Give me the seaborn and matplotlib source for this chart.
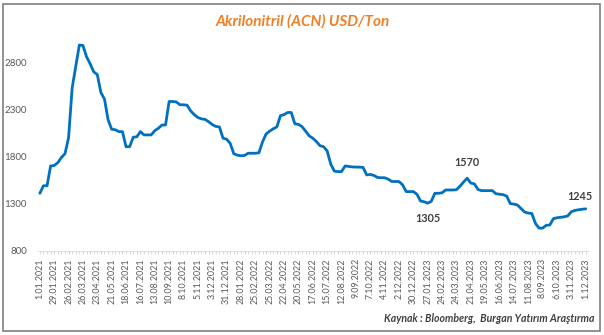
import numpy as np
import pandas as pd
import matplotlib
matplotlib.use("Agg")
import matplotlib.pyplot as plt
from matplotlib.patches import Rectangle
import seaborn as sns

# Weekly ACN price, USD/Ton, starting 1.01.2021
prices = [
    1410, 1490, 1490, 1700, 1705, 1735, 1790, 1830, 2000, 2530,
    2760, 2985, 2980, 2860, 2785, 2700, 2670, 2480, 2410, 2190,
    2090, 2085, 2065, 2065, 1905, 1905, 2005, 2010, 2065, 2030,
    2030, 2030, 2075, 2100, 2135, 2135, 2385, 2385, 2380, 2350,
    2350, 2345, 2285, 2245, 2215, 2200, 2195, 2170, 2140, 2120,
    2115, 1995, 1985, 1940, 1830, 1815, 1808, 1812, 1835, 1835,
    1835, 1840, 1955, 2040, 2070, 2095, 2115, 2235, 2245, 2268,
    2268, 2148, 2142, 2118, 2070, 2020, 1995, 1960, 1915, 1905,
    1860, 1720, 1645, 1640, 1640, 1700, 1695, 1690, 1688, 1688,
    1685, 1605, 1610, 1600, 1578, 1575, 1575, 1560, 1535, 1535,
    1535, 1500, 1428, 1428, 1428, 1400, 1328, 1320, 1305, 1325,
    1410, 1410, 1415, 1445, 1445, 1445, 1448, 1485, 1530, 1570,
    1518, 1510, 1450, 1438, 1438, 1438, 1438, 1405, 1400, 1395,
    1380, 1300, 1295, 1285, 1248, 1210, 1200, 1195, 1090, 1040,
    1040, 1070, 1073, 1140, 1150, 1155, 1160, 1170, 1214, 1228,
    1235, 1240, 1245,
]
start_date = "2021-01-01"
label_weeks = [108, 119, 152]          # annotated points
label_texts = ["1305", "1570", "1245"]
y_ticks = [800, 1300, 1800, 2300, 2800]
title = "Akrilonitril (ACN) USD/Ton"
source = "Kaynak : Bloomberg,  Burgan Yatırım Araştırma"

weeks = pd.date_range(start_date, periods=len(prices), freq="7D")
df = pd.DataFrame({"week": np.arange(len(prices)), "price": prices})

sns.set_theme(style="white")
plt.rcParams["font.family"] = ["Lato", "DejaVu Sans"]

fig = plt.figure(figsize=(6.04, 3.35), dpi=100)
ax = fig.add_axes([0.063, 0.2516, 0.9097, 0.6324])

sns.lineplot(data=df, x="week", y="price", ax=ax, color="#0070C0",
             linewidth=2.0, solid_joinstyle="round")

ax.set_xlim(-0.5, len(prices) - 0.5)
ax.set_ylim(800, 3050)
ax.set_yticks(y_ticks)
ax.set_yticklabels([str(v) for v in y_ticks], fontsize=7, color="#595959")

major = list(range(0, len(prices), 4))
ax.set_xticks(major)
ax.set_xticklabels([f"{weeks[i].day}.{weeks[i].month:02d}.{weeks[i].year}" for i in major],
                   rotation=90, fontsize=6.4, color="#595959")
ax.set_xticks(np.arange(len(prices)), minor=True)
ax.tick_params(axis="x", which="both", direction="out", length=2.5, width=0.6,
               color="#D0D0D0", pad=3, bottom=True)
ax.tick_params(axis="y", length=0, pad=8)
ax.set_xlabel("")
ax.set_ylabel("")

for s in ["top", "right", "left"]:
    ax.spines[s].set_visible(False)
ax.spines["bottom"].set_color("#D9D9D9")
ax.spines["bottom"].set_linewidth(0.6)

offsets = {"1305": (0, -11), "1570": (0, 11), "1245": (-4, 9)}
for w, t in zip(label_weeks, label_texts):
    dx, dy = offsets[t]
    ax.annotate(t, (w, prices[w]), xytext=(dx, dy), textcoords="offset points",
                ha="center", va="center", fontsize=7.8, fontweight="bold",
                color="#404040")

fig.text(0.502, 0.935, title, ha="center", va="center", fontsize=11,
         fontweight="bold", style="italic", color="#F07F26")
fig.text(0.985, 0.05, source, ha="right", va="center", fontsize=7.6,
         fontweight="bold", style="italic", color="#404040")

fig.patches.append(Rectangle((0.005, 0.012), 0.989, 0.976, transform=fig.transFigure,
                             fill=False, edgecolor="#7F7F7F", linewidth=1.2))

fig.savefig("out.png", dpi=100)
